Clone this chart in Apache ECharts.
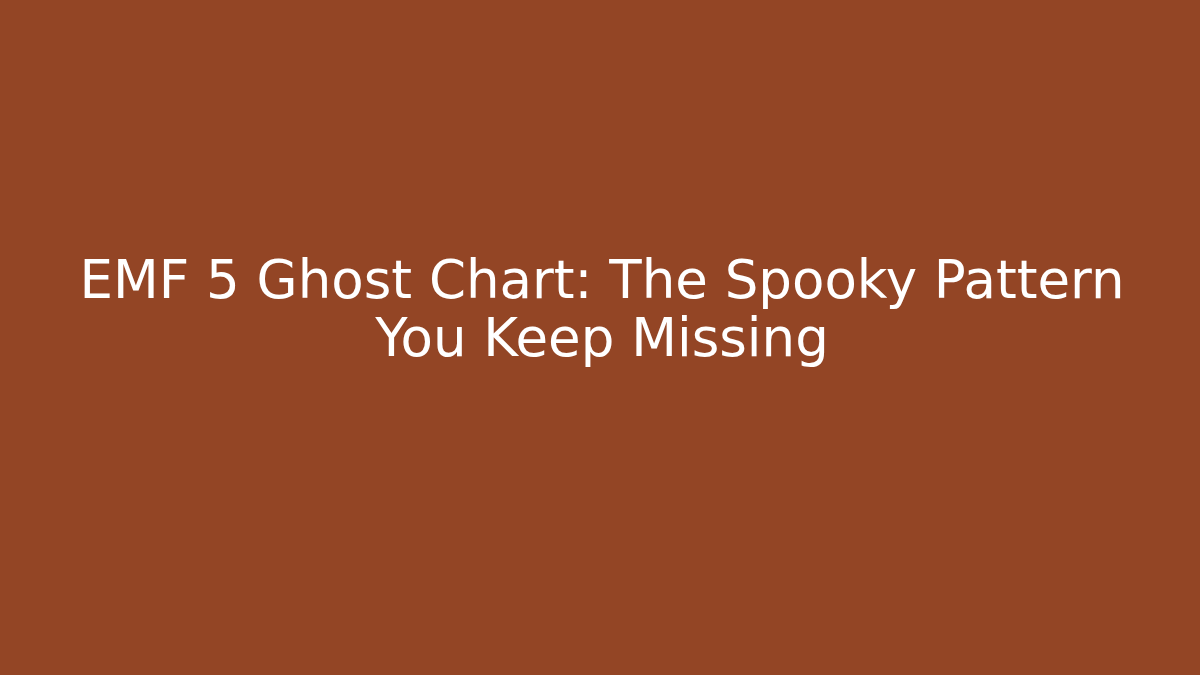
<!DOCTYPE html>
<html><head><meta charset="utf-8">
<script src="https://cdn.jsdelivr.net/npm/echarts@6/dist/echarts.min.js"></script>
<style>html,body{margin:0;padding:0;background:#934525;}#c{width:1200px;height:675px;}</style>
</head><body><div id="c"></div>
<script>
const titleLines = ["EMF 5 Ghost Chart: The Spooky Pattern", "You Keep Missing"];
const chart = echarts.init(document.getElementById('c'));
chart.setOption({
  backgroundColor: '#934525',
  graphic: [{
    type: 'text',
    x: 602,
    y: 313,
    style: {
      text: titleLines.join('\n'),
      fill: '#ffffff',
      font: 'normal 53px "DejaVu Sans"',
      lineHeight: 58,
      align: 'center',
      verticalAlign: 'middle'
    }
  }],
  series: []
});
</script></body></html>
